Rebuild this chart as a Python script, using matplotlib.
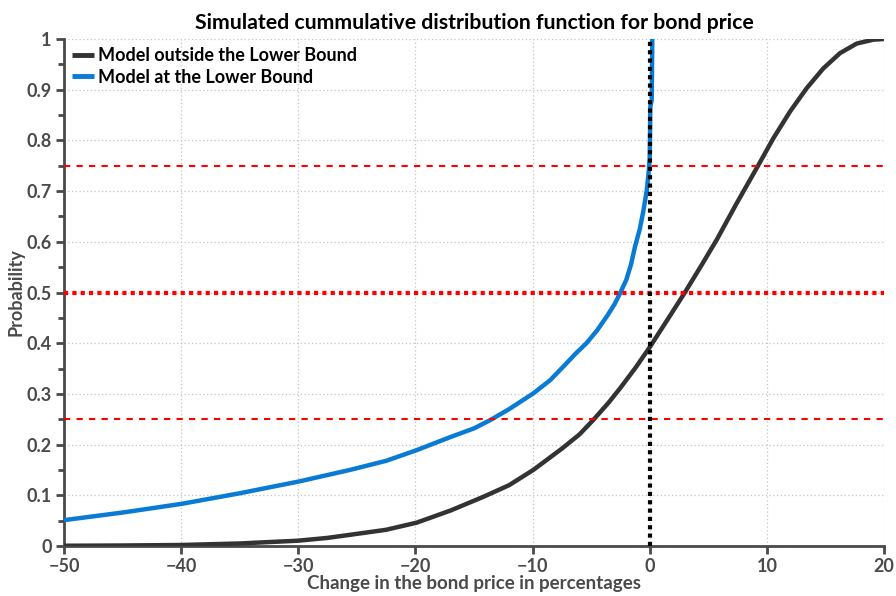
import matplotlib
matplotlib.use("Agg")
import matplotlib.pyplot as plt
from matplotlib.ticker import MultipleLocator

# ---- data ----
outside_x = [-50, -45, -40, -35, -30, -27.5, -25.6, -22.5, -19.9, -17, -14.2, -12,
             -9.94, -7.5, -6.0, -4.82, -3.5, -2.5, -1.2, 0, 1.7, 3.0, 4.4, 5.72,
             7.4, 9.27, 10.55, 11.98, 13.4, 14.82, 16.24, 17.67, 19.09, 20]
outside_y = [0.0005, 0.001, 0.002, 0.005, 0.0105, 0.016, 0.022, 0.032, 0.046, 0.07,
             0.097, 0.12, 0.15, 0.192, 0.22, 0.2485, 0.283, 0.312, 0.352, 0.392,
             0.453, 0.50, 0.553, 0.604, 0.675, 0.751, 0.804, 0.857, 0.903, 0.942,
             0.972, 0.991, 0.9987, 1.0]

lower_x = [-50, -45, -40, -35, -30, -25.6, -22.5, -19.9, -17, -15, -13.6, -12,
           -9.94, -8.5, -7.37, -6.3, -5.4, -4.5, -3.6, -3.0, -2.5, -2.0, -1.6,
           -1.26, -0.85, -0.55, -0.26, -0.1, 0.0, 0.03, 0.05, 0.17, 0.22]
lower_y = [0.051, 0.066, 0.083, 0.104, 0.127, 0.15, 0.168, 0.189, 0.215, 0.232,
           0.2485, 0.27, 0.301, 0.327, 0.354, 0.38, 0.40, 0.425, 0.455, 0.477,
           0.50, 0.525, 0.555, 0.59, 0.625, 0.66, 0.70, 0.735, 0.765, 0.82,
           0.866, 0.88, 1.0]

quantile_levels = [0.25, 0.5, 0.75]
series_labels = ["Model outside the Lower Bound", "Model at the Lower Bound"]
title = "Simulated cummulative distribution function for bond price"
xlabel = "Change in the bond price in percentages"
ylabel = "Probability"

plt.rcParams['font.family'] = ['Lato', 'DejaVu Sans']
plt.rcParams['font.weight'] = 'bold'

fig = plt.figure(figsize=(8.96, 5.96), dpi=100)
ax = fig.add_axes([64/896, 1-546/596, 820/896, 507/596])

grey = '#4a4a4a'
ax.plot(outside_x, outside_y, color='#333333', lw=3.2, label=series_labels[0],
        solid_capstyle='butt', solid_joinstyle='round', zorder=3)
ax.plot(lower_x, lower_y, color='#0a7bd4', lw=3.2, label=series_labels[1],
        solid_capstyle='butt', solid_joinstyle='round', zorder=3)

for q in quantile_levels:
    if q == 0.5:
        ax.axhline(q, color='#ff0000', lw=3, linestyle=(0, (1, 1)), zorder=4)
    else:
        ax.axhline(q, color='#ff0000', lw=1.5, linestyle=(0, (3, 3)), zorder=4)
ax.plot([0, 0], [0, 1], color='black', lw=3, linestyle=(0, (1, 1)), zorder=5)

ax.set_xlim(-50, 20)
ax.set_ylim(0, 1)
ax.yaxis.set_minor_locator(MultipleLocator(0.05))
ax.set_yticks([0, 0.1, 0.2, 0.3, 0.4, 0.5, 0.6, 0.7, 0.8, 0.9, 1.0])
ax.set_yticklabels(['0', '0.1', '0.2', '0.3', '0.4', '0.5', '0.6', '0.7', '0.8', '0.9', '1'])
ax.set_xticks([-50, -40, -30, -20, -10, 0, 10, 20])
ax.set_xticklabels(['\u221250', '\u221240', '\u221230', '\u221220', '\u221210', '0', '10', '20'])

ax.grid(True, which='major', color='#c4c4c4', linestyle=(0, (1, 2)), lw=0.9)
for s in ['top', 'right']:
    ax.spines[s].set_visible(False)
for s in ['left', 'bottom']:
    ax.spines[s].set_color(grey)
    ax.spines[s].set_linewidth(2)
ax.tick_params(axis='both', which='major', colors=grey, width=2, length=6,
               labelsize=13, direction='out', pad=3)
ax.tick_params(axis='y', which='minor', colors=grey, width=2, length=4)
for lab in ax.get_xticklabels() + ax.get_yticklabels():
    lab.set_fontweight('bold')

ax.set_xlabel(xlabel, fontsize=13.5, fontweight='bold', color=grey, labelpad=0)
ax.set_ylabel(ylabel, fontsize=13, fontweight='bold', color=grey, labelpad=1)
ax.set_title(title, fontsize=15.3, fontweight='bold', color='black', pad=7)

leg = ax.legend(loc='upper left', frameon=False, handlelength=1.2,
                handletextpad=0.25, borderaxespad=0.15, labelspacing=0.25,
                borderpad=0.3, prop={'weight': 'bold', 'size': 13})
for line in leg.get_lines():
    line.set_linewidth(3.5)

fig.savefig('out.png', dpi=100)
